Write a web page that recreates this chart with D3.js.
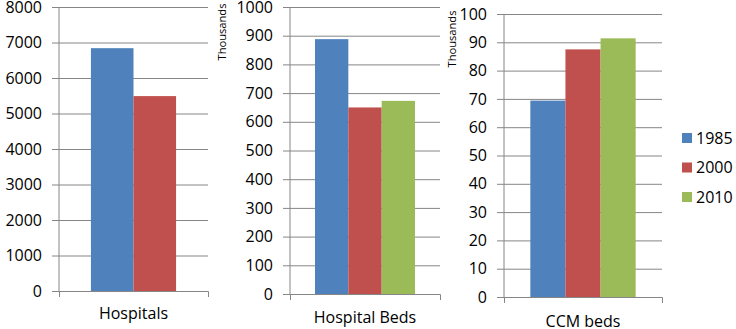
<!DOCTYPE html>
<html>
<head>
<meta charset="utf-8">
<script src="https://cdn.jsdelivr.net/npm/d3@7"></script>
<style>
  html, body { margin: 0; padding: 0; background: #fff; }
  svg { display: block; }
  text { font-family: "Open Sans", "Liberation Sans", sans-serif; fill: #000; }
</style>
</head>
<body>
<div id="chart"></div>
<script>
// Chart data (hospital beds and CCM beds are in thousands)
const categories = ['Hospitals', 'Hospital Beds', 'CCM beds'];
const years = ['1985', '2000', '2010'];
const hospitals = [6840, 5490];          // 1985, 2000
const hospitalBeds = [888, 650, 673];    // 1985, 2000, 2010
const ccmBeds = [69.4, 87.5, 91.4];      // 1985, 2000, 2010
const yMax = [8000, 1000, 100];
const yStep = [1000, 100, 10];
const unitLabels = [null, 'Thousands', 'Thousands'];

const seriesValues = [hospitals, hospitalBeds, ccmBeds];
const colors = d3.scaleOrdinal().domain(years).range(['#4F81BD', '#C0504D', '#9BBB59']);

// panel placement in the 736x329 picture
const panels = [
  { x0: 59, x1: 208, top: 7, bottom: 291, labelPad: 17, unitX: 0 },
  { x0: 290, x1: 440, top: 7, bottom: 294, labelPad: 18, unitX: 68 },
  { x0: 504, x1: 662, top: 14, bottom: 297, labelPad: 19, unitX: 52 }
];

const width = 736, height = 329;
const gridColor = '#868686';
const labelFont = '16px';

const svg = d3.select('#chart').append('svg')
  .attr('width', width)
  .attr('height', height);

categories.forEach((cat, i) => {
  const p = panels[i];
  const values = seriesValues[i];
  const data = values.map((v, j) => ({ year: years[j], value: v }));
  const g = svg.append('g').attr('class', 'panel');

  const y = d3.scaleLinear().domain([0, yMax[i]]).range([p.bottom, p.top]);
  const ticks = d3.range(0, yMax[i] + yStep[i] / 2, yStep[i]);

  // Excel style: gap width 150% of a bar on a single category
  const x = d3.scaleBand().domain([cat]).range([p.x0, p.x1])
    .paddingInner(0).paddingOuter(0.75 / data.length);
  const xs = d3.scaleBand().domain(data.map(d => d.year))
    .range([0, x.bandwidth()]).padding(0);

  // gridlines + tick labels, drawn from the right edge so they poke 7px past the axis
  const yAxis = g.append('g')
    .attr('transform', `translate(${p.x1},0)`)
    .call(d3.axisLeft(y).tickValues(ticks).tickFormat(d3.format('d'))
      .tickSize(p.x1 - p.x0 + 7).tickPadding(10));
  yAxis.select('.domain').remove();
  yAxis.selectAll('line').attr('stroke', gridColor);
  yAxis.selectAll('text')
    .style('font-size', labelFont)
    .style('font-family', '"Open Sans", sans-serif')
    .attr('fill', '#000');

  // bars
  g.append('g')
    .selectAll('rect')
    .data(data)
    .enter()
    .append('rect')
    .attr('x', d => x(cat) + xs(d.year))
    .attr('width', xs.bandwidth())
    .attr('y', d => y(d.value))
    .attr('height', d => y(0) - y(d.value))
    .attr('fill', d => colors(d.year));

  // vertical axis line
  g.append('line')
    .attr('x1', p.x0).attr('x2', p.x0)
    .attr('y1', p.top).attr('y2', p.bottom)
    .attr('stroke', gridColor);

  // category axis: outer ticks at the panel edges, label under the group
  const xAxis = g.append('g')
    .attr('transform', `translate(0,${p.bottom})`)
    .call(d3.axisBottom(x).tickSizeInner(0).tickSizeOuter(6).tickPadding(p.labelPad));
  xAxis.select('.domain').attr('stroke', gridColor);
  xAxis.selectAll('line').remove();
  xAxis.selectAll('text')
    .style('font-size', labelFont)
    .style('font-family', '"Open Sans", sans-serif')
    .attr('fill', '#000');

  if (unitLabels[i]) {
    g.append('text')
      .attr('transform', `translate(${p.x0 - p.unitX},${p.top + 25}) rotate(-90)`)
      .attr('text-anchor', 'middle')
      .attr('dy', '0.35em')
      .attr('font-size', '10px')
      .attr('textLength', 57)
      .attr('lengthAdjust', 'spacingAndGlyphs')
      .text(unitLabels[i]);
  }
});

// legend
const legendY = d3.scalePoint().domain(years).range([138, 197]);
const legend = svg.append('g').attr('class', 'legend');
const item = legend.selectAll('g')
  .data(years)
  .enter()
  .append('g')
  .attr('transform', d => `translate(682,${legendY(d)})`);
item.append('rect')
  .attr('x', 0).attr('y', -5)
  .attr('width', 10).attr('height', 10)
  .attr('fill', d => colors(d));
item.append('text')
  .attr('x', 14)
  .attr('dy', '0.35em')
  .attr('font-size', labelFont)
  .text(d => d);
</script>
</body>
</html>
